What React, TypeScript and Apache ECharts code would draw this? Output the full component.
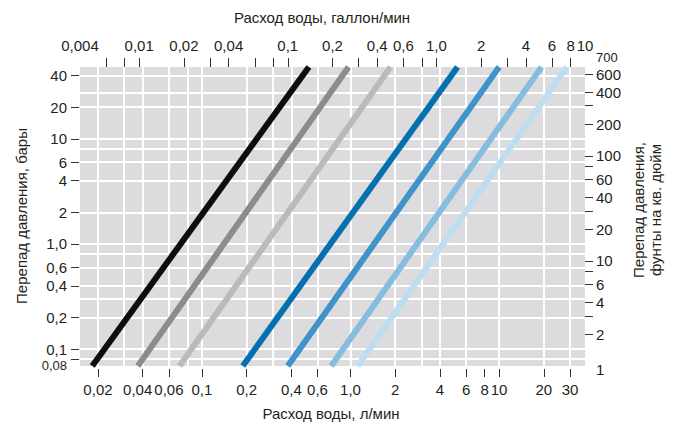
import React, { useEffect, useRef } from "react";
import * as echarts from "echarts";

// Unit conversions
const L_PER_GAL = 3.785;
const PSI_PER_BAR = 14.5038;

// Axis ranges (top: gallons/min, right: psi)
const galRange = [0.004, 10];
const psiRange = [1, 700];

// Bottom axis: l/min
const lpmTickValues = [0.02, 0.04, 0.06, 0.1, 0.2, 0.4, 0.6, 1, 2, 4, 6, 8, 10, 20, 30];
const lpmGridValues = [0.02, 0.03, 0.04, 0.06, 0.08, 0.1, 0.2, 0.3, 0.4, 0.6, 1, 2, 3, 4, 6, 10, 20, 30];

// Top axis: gallons/min
const galTickValues = [0.006, 0.008, 0.01, 0.02, 0.03, 0.04, 0.06, 0.08, 0.1, 0.2, 0.3, 0.4, 0.6, 0.8, 1, 2, 3, 4, 6, 8];
const galLabelValues = [0.004, 0.01, 0.02, 0.04, 0.1, 0.2, 0.4, 0.6, 1, 2, 4, 6, 8, 10];

// Left axis: bar
const barTickValues = [0.1, 0.2, 0.4, 0.6, 1, 2, 4, 6, 10, 20, 40];
const barEdgeValues = [0.08];
const barGridValues = [0.08, 0.1, 0.2, 0.3, 0.4, 0.6, 0.8, 1, 2, 4, 6, 8, 10, 20, 40];

// Right axis: psi
const psiTickValues = [2, 3, 4, 6, 8, 10, 20, 30, 40, 60, 80, 100, 200, 300, 400, 600];
const psiLabelValues = [2, 4, 6, 10, 20, 40, 60, 100, 200, 400, 600];
const psiEdgeValues = [1, 700];
const psiGridValues = [400];

// Flow lines: pressure (bar) at the two ends, flow (l/min) at those pressures
const endPressuresBar = [0.069, 48.3];
const lineFlows = [
  [0.0183, 0.525],
  [0.0371, 0.97],
  [0.0707, 1.86],
  [0.1886, 5.25],
  [0.3786, 10.0],
  [0.742, 19.3],
  [1.12, 28.6],
];
const lineColors = ["#0d0d0d", "#8c8c8c", "#bababa", "#0570b0", "#3f93c8", "#86bcde", "#bfddf0"];

const FONT = "'Liberation Sans', Arial, sans-serif";
const TEXT_COLOR = "#231f20";

function fmt(v: number): string {
  if (v === 1) return "1,0";
  return String(v).replace(".", ",");
}

export default function App() {
  const ref = useRef<HTMLDivElement>(null);

  useEffect(() => {
    document.body.style.margin = "0";
    const chart = echarts.init(ref.current!, undefined, { renderer: "svg" });

    const labelBase = {
      fontSize: 15,
      fontFamily: FONT,
      color: TEXT_COLOR,
    };
    const tickStyle = { color: "#333", width: 1 };
    const barMin = psiRange[0] / PSI_PER_BAR;
    const barMax = psiRange[1] / PSI_PER_BAR;

    const gridMark = (values: number[], key: "xAxis" | "yAxis") => ({
      silent: true,
      z: 1,
      symbol: ["none", "none"],
      label: { show: false },
      lineStyle: { color: "#ffffff", width: 2, type: "solid" as const, opacity: 1 },
      emphasis: { disabled: true },
      data: values.map((v) => ({ [key]: v })),
    });

    const logAxis = (extra: any) => ({
      type: "log",
      logBase: 10,
      axisLine: { show: false },
      splitLine: { show: false },
      ...extra,
    });

    const option: any = {
      animation: false,
      backgroundColor: "#ffffff",
      grid: {
        left: 80,
        right: 93,
        top: 67,
        bottom: 60,
        show: true,
        backgroundColor: "#dcdcde",
        borderWidth: 0,
      },
      xAxis: [
        logAxis({
          position: "bottom",
          min: galRange[0] * L_PER_GAL,
          max: galRange[1] * L_PER_GAL,
          offset: 3,
          axisTick: { show: true, length: 8, lineStyle: tickStyle, customValues: lpmTickValues },
          axisLabel: {
            ...labelBase,
            margin: 13,
            customValues: lpmTickValues,
            formatter: (v: number) => (v === 0.04 ? "{l|" + fmt(v) + "}" : fmt(v)),
            rich: { l: { ...labelBase, padding: [0, 10, 0, 0] } },
          },
        }),
        logAxis({
          position: "top",
          min: galRange[0],
          max: galRange[1],
          offset: 0,
          axisTick: { show: true, length: 9, lineStyle: tickStyle, customValues: galTickValues },
          axisLabel: {
            ...labelBase,
            margin: 14,
            showMinLabel: true,
            showMaxLabel: true,
            customValues: galLabelValues,
            formatter: (v: number) => fmt(v),
          },
        }),
      ],
      yAxis: [
        logAxis({
          position: "left",
          min: barMin,
          max: barMax,
          offset: 1,
          axisTick: { show: true, length: 8, lineStyle: tickStyle, customValues: barTickValues },
          axisLabel: {
            ...labelBase,
            margin: 12,
            customValues: barTickValues,
            formatter: (v: number) => fmt(v),
          },
        }),
        logAxis({
          position: "right",
          min: psiRange[0],
          max: psiRange[1],
          offset: 0,
          axisTick: { show: true, length: 8, lineStyle: tickStyle, customValues: psiTickValues },
          axisLabel: {
            ...labelBase,
            margin: 11,
            customValues: psiLabelValues,
            formatter: (v: number) => String(v),
          },
        }),
        // edge labels kept on separate axes so they are not hidden by overlap handling
        logAxis({
          position: "left",
          min: barMin,
          max: barMax,
          offset: 1,
          axisTick: { show: true, length: 8, lineStyle: tickStyle, customValues: barEdgeValues },
          axisLabel: {
            ...labelBase,
            margin: 12,
            showMinLabel: true,
            showMaxLabel: true,
            customValues: barEdgeValues,
            formatter: (v: number) => "{dn|" + fmt(v) + "}",
            rich: { dn: { ...labelBase, fontSize: 13, lineHeight: 13, padding: [13, 0, 0, 0] } },
          },
        }),
        logAxis({
          position: "right",
          min: psiRange[0],
          max: psiRange[1],
          offset: 0,
          axisTick: { show: false },
          axisLabel: {
            ...labelBase,
            margin: 11,
            showMinLabel: true,
            showMaxLabel: true,
            customValues: psiEdgeValues,
            formatter: (v: number) => (v === 700 ? "{up|700}" : "{dn|1}"),
            rich: {
              up: { ...labelBase, fontSize: 13, lineHeight: 13, padding: [0, 0, 20, 0] },
              dn: { ...labelBase, padding: [7, 0, 0, 0] },
            },
          },
        }),
      ],
      series: [
        {
          type: "line",
          name: "grid-lpm",
          xAxisIndex: 0,
          yAxisIndex: 0,
          data: [],
          z: 1,
          markLine: gridMark(lpmGridValues, "xAxis"),
        },
        {
          type: "line",
          name: "grid-bar",
          xAxisIndex: 0,
          yAxisIndex: 0,
          data: [],
          z: 1,
          markLine: gridMark(barGridValues, "yAxis"),
        },
        {
          type: "line",
          name: "grid-psi",
          xAxisIndex: 0,
          yAxisIndex: 1,
          data: [],
          z: 1,
          markLine: gridMark(psiGridValues, "yAxis"),
        },
        ...lineFlows.map((flows, i) => ({
          type: "line",
          xAxisIndex: 0,
          yAxisIndex: 0,
          z: 10,
          clip: true,
          showSymbol: false,
          symbol: "none",
          silent: true,
          lineStyle: { color: lineColors[i], width: 6, cap: "butt" },
          data: flows.map((q, j) => [q, endPressuresBar[j]]),
        })),
      ],
      graphic: [
        {
          type: "text",
          x: 322,
          y: 17,
          style: {
            text: "Расход воды, галлон/мин",
            fontSize: 15,
            fontFamily: FONT,
            fill: TEXT_COLOR,
            align: "center",
            verticalAlign: "middle",
          },
        },
        {
          type: "text",
          x: 331,
          y: 413,
          style: {
            text: "Расход воды, л/мин",
            fontSize: 15,
            fontFamily: FONT,
            fill: TEXT_COLOR,
            align: "center",
            verticalAlign: "middle",
          },
        },
        {
          type: "text",
          x: 21,
          y: 216,
          rotation: Math.PI / 2,
          style: {
            text: "Перепад давления, бары",
            fontSize: 15,
            fontFamily: FONT,
            fill: TEXT_COLOR,
            align: "center",
            verticalAlign: "middle",
          },
        },
        {
          type: "text",
          x: 647,
          y: 210,
          rotation: Math.PI / 2,
          style: {
            text: "Перепад давления,\nфунты на кв. дюйм",
            fontSize: 15,
            lineHeight: 17,
            fontFamily: FONT,
            fill: TEXT_COLOR,
            align: "center",
            verticalAlign: "middle",
          },
        },
      ],
    };

    chart.setOption(option);
    return () => chart.dispose();
  }, []);

  return (
    <div
      ref={ref}
      style={{ position: "absolute", left: 0, top: 0, width: 678, height: 426 }}
    />
  );
}
